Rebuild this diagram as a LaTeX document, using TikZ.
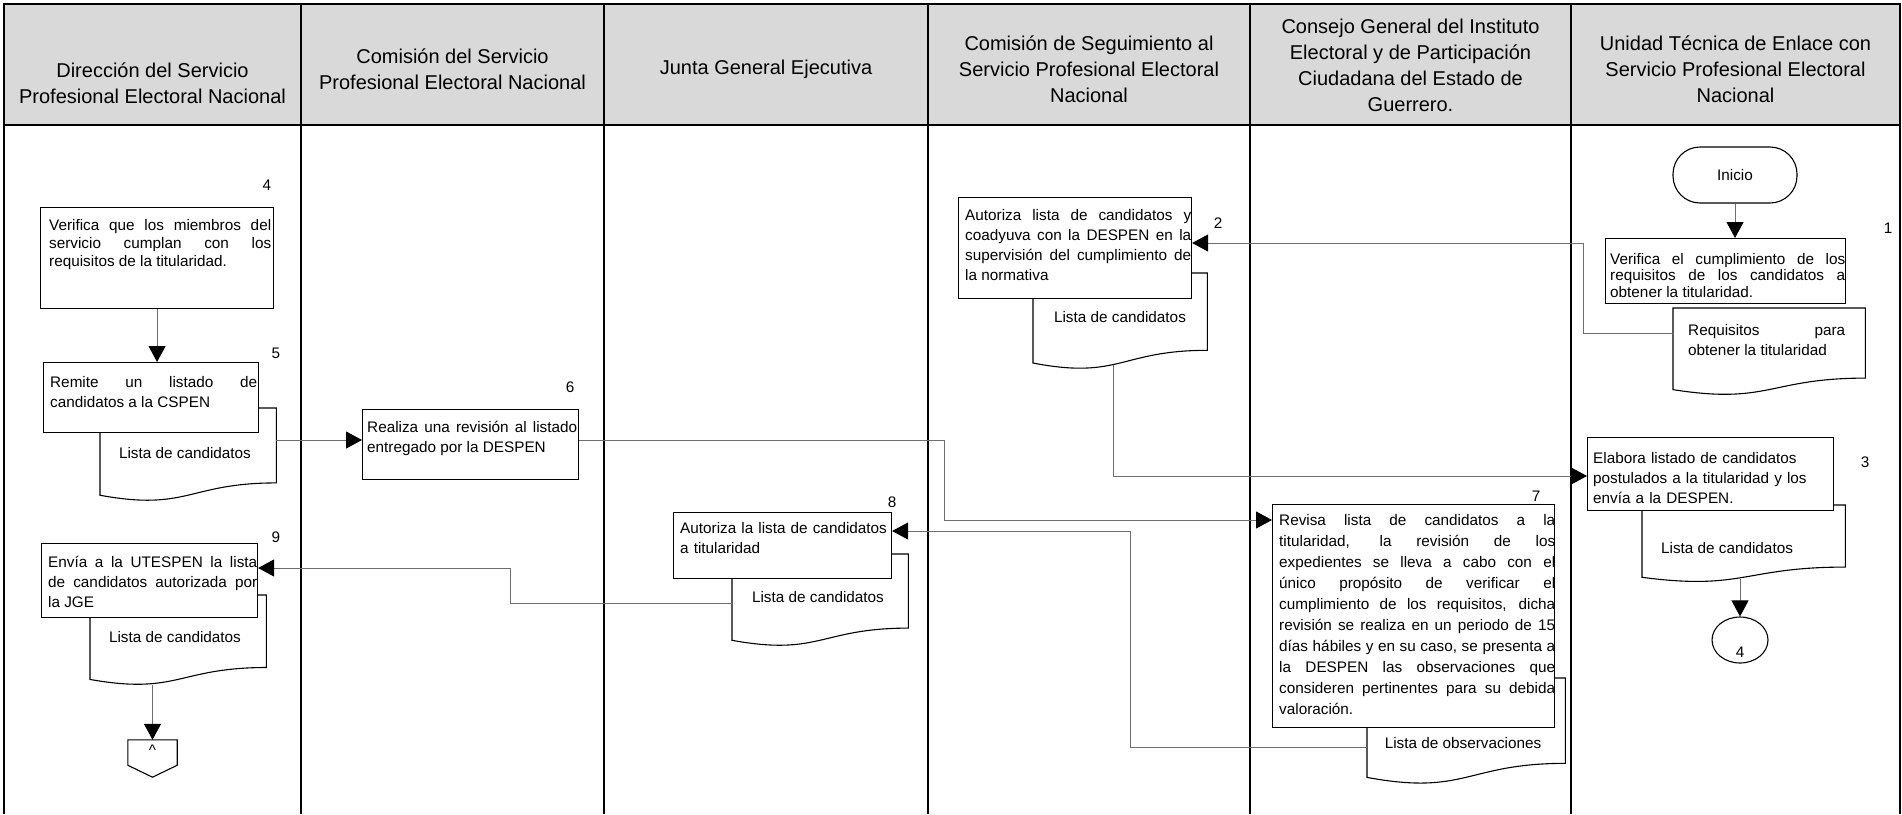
\documentclass[tikz,border=0pt]{standalone}
\usepackage{fontspec}
\setmainfont{Liberation Sans}
\usetikzlibrary{arrows.meta,calc,shapes.geometric}
\definecolor{headgray}{HTML}{D9D9D9}
\definecolor{linkgray}{HTML}{6E6E6E}
\hyphenpenalty=10000
\exhyphenpenalty=10000
\tolerance=10000
\hbadness=10000
\newcommand{\docwave}[1]{%
  \draw[docline] (#1.north west) -- (#1.north east)
    -- ($(#1.north east)!0.802!(#1.south east)$)
    .. controls ($(#1.north)!0.802!(#1.south)$) and ($(#1.north)!1.1075!(#1.south)$)
    .. ($(#1.north west)!0.934!(#1.south west)$) -- cycle;}
\begin{document}
\begin{tikzpicture}[x=1pt,y=-1pt,
    laneline/.style={line width=2.4pt,black},
    stepbox/.style={draw=black,line width=1.1pt,fill=white,inner sep=0pt,anchor=north west},
    docarea/.style={inner sep=0pt,anchor=north west},
    docline/.style={draw=black,line width=1.1pt,fill=white},
    boxtext/.style={inner sep=0pt,anchor=base west,align=justify,font=\fontsize{15.3}{20}\selectfont},
    doctext/.style={inner sep=0pt,font=\fontsize{15.3}{20}\selectfont},
    steplabel/.style={inner sep=0pt,font=\fontsize{15.3}{20}\selectfont},
    lanehead/.style={inner sep=0pt,align=center,font=\fontsize{20}{26}\selectfont},
    terminal/.style={draw=black,line width=1.1pt,rounded corners=27pt,inner sep=0pt,font=\fontsize{15.3}{20}\selectfont},
    link/.style={draw=linkgray,line width=1pt},
    arr/.style={link,-{Triangle[length=16pt,width=17pt,color=black]}}]
    \useasboundingbox (0,0) rectangle (1902,814);
    \fill[headgray] (4,4) rectangle (1900,125);
    \draw[laneline] (4,814) -- (4,4) -- (1900,4) -- (1900,814)
        (4,125) -- (1900,125)
        (301,4) -- (301,814) (604,4) -- (604,814) (928,4) -- (928,814)
        (1250,4) -- (1250,814) (1571,4) -- (1571,814);
    \node[lanehead] (h1) at (152.5,83) {Dirección del Servicio\\Profesional Electoral Nacional};
    \node[lanehead] (h2) at (452.5,69) {Comisión del Servicio\\Profesional Electoral Nacional};
    \node[lanehead] (h3) at (766,69) {Junta General Ejecutiva};
    \node[lanehead] (h4) at (1089,69) {Comisión de Seguimiento al\\Servicio Profesional Electoral\\Nacional};
    \node[lanehead] (h5) at (1410.5,65) {Consejo General del Instituto\\Electoral y de Participación\\Ciudadana del Estado de\\Guerrero.};
    \node[lanehead] (h6) at (1735.5,69) {Unidad Técnica de Enlace con\\Servicio Profesional Electoral\\Nacional};

    \node[terminal,minimum width=124pt,minimum height=56pt] (ini) at (1735,175) {Inicio};
    \node[docarea,minimum width=192pt,minimum height=87pt] (d1) at (1673,308) {};
    \docwave{d1}
    \node[stepbox,minimum width=240pt,minimum height=65pt] (b1) at (1605,238) {};
    \node[boxtext,text width=235pt,font=\fontsize{15.3}{16.5}\selectfont] (t1) at (1610,264) {Verifica el cumplimiento de los\linebreak requisitos de los candidatos a\linebreak obtener la titularidad.};
    \node[boxtext,text width=157pt] (l1) at (1688,335) {Requisitos para\linebreak obtener la titularidad};
    \node[steplabel] (n1) at (1888,228) {1};

    \node[docarea,minimum width=174pt,minimum height=96pt] (d2) at (1033,273) {};
    \docwave{d2}
    \node[stepbox,minimum width=233pt,minimum height=101pt] (b2) at (958,197) {};
    \node[boxtext,text width=226pt] (t2) at (965,220) {Autoriza lista de candidatos y\linebreak coadyuva con la DESPEN en la\linebreak supervisión del cumplimiento de\linebreak la normativa};
    \node[doctext] (l2) at (1120,317) {Lista de candidatos};
    \node[steplabel] (n2) at (1218,223) {2};

    \node[docarea,minimum width=203pt,minimum height=77pt] (d3) at (1642,505) {};
    \docwave{d3}
    \node[stepbox,minimum width=246pt,minimum height=73pt] (b3) at (1587,437) {};
    \node[boxtext,align=left,text width=240pt] (t3) at (1593,463) {Elabora listado de candidatos\\postulados a la titularidad y los\\envía a la DESPEN.};
    \node[doctext] (l3) at (1727,548) {Lista de candidatos};
    \node[steplabel] (n3) at (1865,462) {3};
    \node[ellipse,draw=black,line width=1.1pt,minimum width=56pt,minimum height=46pt,inner sep=0pt] (c4) at (1740,640) {};
    \node[steplabel] (c4t) at (1740,652) {4};

    \node[stepbox,minimum width=233pt,minimum height=101pt] (b4) at (40,207) {};
    \node[boxtext,text width=222pt,font=\fontsize{15.3}{18}\selectfont] (t4) at (49,230) {Verifica que los miembros del\linebreak servicio cumplan con los\linebreak requisitos de la titularidad.};
    \node[steplabel] (n4) at (267,185) {4};

    \node[docarea,minimum width=176pt,minimum height=93pt] (d5) at (100,408) {};
    \docwave{d5}
    \node[stepbox,minimum width=215pt,minimum height=70pt] (b5) at (43,362) {};
    \node[boxtext,text width=207pt] (t5) at (50,387) {Remite un listado de\linebreak candidatos a la CSPEN};
    \node[doctext] (l5) at (185,453) {Lista de candidatos};
    \node[steplabel] (n5) at (276,353) {5};

    \node[stepbox,minimum width=216pt,minimum height=70pt] (b6) at (362,409) {};
    \node[boxtext,text width=210pt] (t6) at (367,432) {Realiza una revisión al listado\linebreak entregado por la DESPEN};
    \node[steplabel] (n6) at (570,387) {6};

    \node[docarea,minimum width=198pt,minimum height=106pt] (d7) at (1367,678) {};
    \docwave{d7}
    \node[stepbox,minimum width=282pt,minimum height=223pt] (b7) at (1272,504) {};
    \node[boxtext,text width=276pt,font=\fontsize{15.3}{21}\selectfont] (t7) at (1279,525) {Revisa lista de candidatos a la\linebreak titularidad, la revisión de los\linebreak expedientes se lleva a cabo con el\linebreak único propósito de verificar el\linebreak cumplimiento de los requisitos, dicha\linebreak revisión se realiza en un periodo de 15\linebreak días hábiles y en su caso, se presenta a\linebreak la DESPEN las observaciones que\linebreak consideren pertinentes para su debida\linebreak valoración.};
    \node[doctext] (l7) at (1463,743) {Lista de observaciones};
    \node[steplabel] (n7) at (1536,496) {7};

    \node[docarea,minimum width=176pt,minimum height=92pt] (d8) at (732,554) {};
    \docwave{d8}
    \node[stepbox,minimum width=218pt,minimum height=66pt] (b8) at (673,512) {};
    \node[boxtext,align=left,text width=212pt] (t8) at (680,533) {Autoriza la lista de candidatos\\a titularidad};
    \node[doctext] (l8) at (818,597) {Lista de candidatos};
    \node[steplabel] (n8) at (892,502) {8};

    \node[docarea,minimum width=176pt,minimum height=90pt] (d9) at (90,595) {};
    \docwave{d9}
    \node[stepbox,minimum width=216pt,minimum height=74pt] (b9) at (41,543) {};
    \node[boxtext,text width=209pt] (t9) at (48,567) {Envía a la UTESPEN la lista\linebreak de candidatos autorizada por\linebreak la JGE};
    \node[doctext] (l9) at (175,637) {Lista de candidatos};
    \node[steplabel] (n9) at (276,537) {9};

    \node[docarea,anchor=center,minimum width=49pt,minimum height=37pt] (off) at (152.5,758.5) {};
    \draw[docline] (off.north west) -- (off.north east) -- ($(off.north east)!0.68!(off.south east)$)
        -- (off.south) -- ($(off.north west)!0.68!(off.south west)$) -- cycle;
    \node[steplabel] (offt) at (152.5,750) {\textasciicircum};

    \coordinate (j1) at (1583,333);
    \coordinate (j1b) at (1583,243);
    \coordinate (j2) at (1113,476);
    \coordinate (j3a) at (362,440);
    \coordinate (j3) at (944,520);
    \coordinate (j4) at (1130,747);
    \coordinate (j5) at (1130,531);
    \coordinate (j6) at (510,603);
    \coordinate (j7) at (510,568);
    \coordinate (d2w) at ($(d2.north)!0.95!(d2.south)$);
    \coordinate (d3w) at ($(d3.north)!0.95!(d3.south)$);
    \draw[arr] (ini.south) -- (ini.south |- b1.north);
    \draw[arr] (j1 -| d1.west) -- (j1) -- (j1b) -- (j1b -| b2.east);
    \draw[arr] (j2 |- d2w) -- (j2) -- (j2 -| b3.west);
    \draw[arr] (c4.north |- d3w) -- (c4.north);
    \draw[arr] (b4.south) -- (b4.south |- b5.north);
    \draw[arr] (j3a -| d5.east) -- (j3a -| b6.west);
    \draw[arr] (j3a -| b6.east) -| (j3) -- (j3 -| b7.west);
    \draw[arr] (j4 -| d7.west) -- (j4) -- (j5) -- (j5 -| b8.east);
    \draw[arr] (j6 -| d8.west) -- (j6) -- (j7) -- (j7 -| b9.east);
    \draw[arr] (off.north |- d9.south) -- (off.north);
\end{tikzpicture}
\end{document}
